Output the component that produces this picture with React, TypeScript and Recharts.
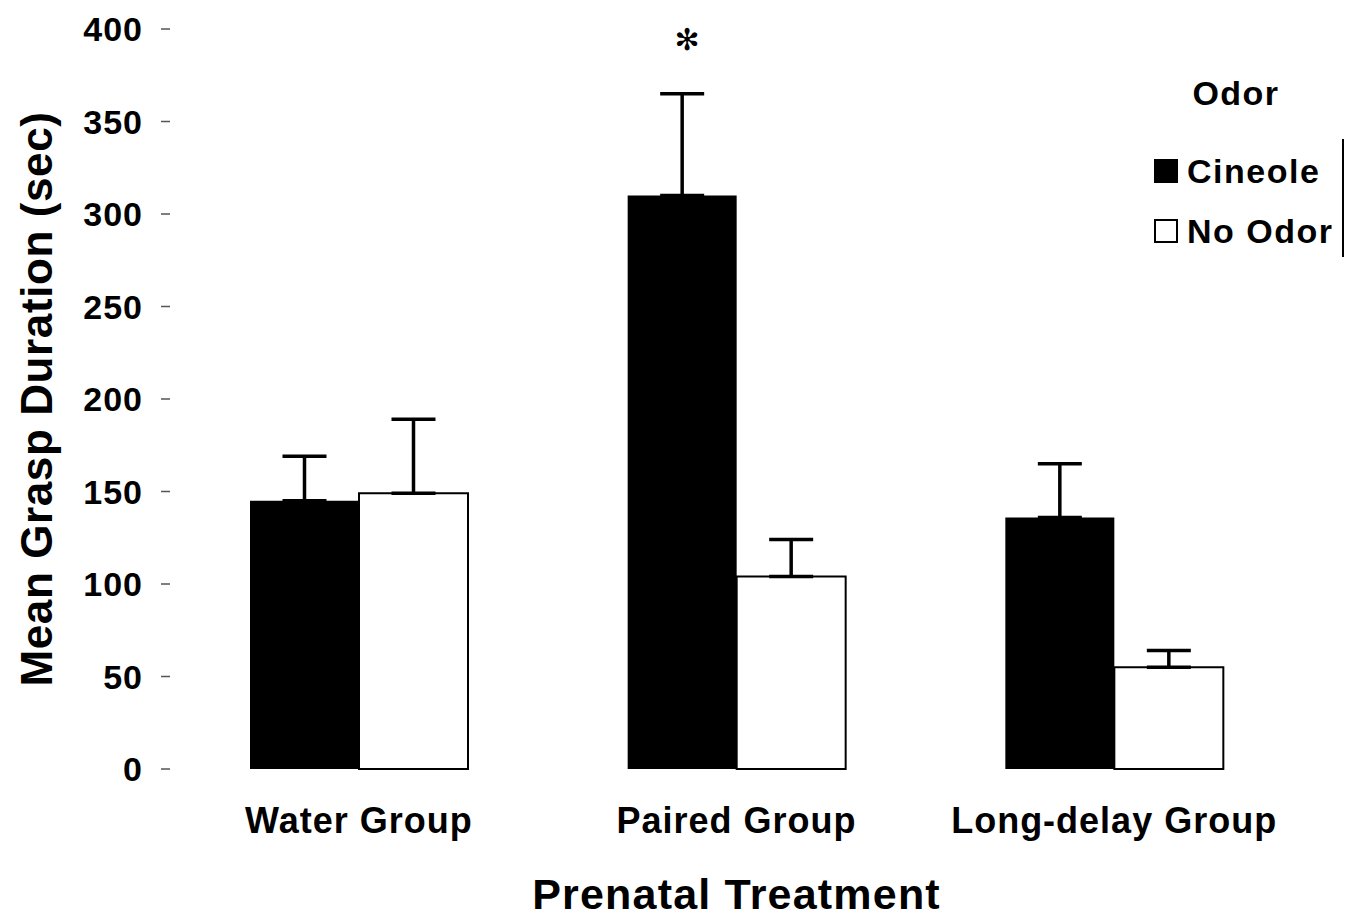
import { Bar, BarChart, ErrorBar, LabelList, Legend, XAxis, YAxis } from "recharts";

const groups = ["Water Group", "Paired Group", "Long-delay Group"];
const cineole = [145, 310, 136];
const cineoleErr = [24, 55, 29];
const noOdor = [149, 104, 55];
const noOdorErr = [40, 20, 9];
const significance = ["", "✻", ""];
const yTicks = [0, 50, 100, 150, 200, 250, 300, 350, 400];

const data = groups.map((name, i) => ({
  name,
  cineole: cineole[i],
  cineoleErr: [0, cineoleErr[i]],
  noOdor: noOdor[i],
  noOdorErr: [0, noOdorErr[i]],
  sig: significance[i],
}));

const font = "'Liberation Sans', Arial, Helvetica, sans-serif";

function SigLabel(props: any) {
  const { x, y, width, height, index, value } = props;
  if (!value) return null;
  const perUnit = height / cineole[index];
  const errTop = y - cineoleErr[index] * perUnit;
  return (
    <text
      x={x + width / 2 + 5}
      y={errTop - 54}
      textAnchor="middle"
      dominantBaseline="central"
      fontFamily="'DejaVu Sans', sans-serif"
      fontSize={30}
      fill="#000"
    >
      {value}
    </text>
  );
}

function YTitle(props: any) {
  const { viewBox } = props;
  const cy = viewBox.y + viewBox.height / 2;
  return (
    <text
      x={36}
      y={cy}
      transform={`rotate(-90, 36, ${cy})`}
      textAnchor="middle"
      dominantBaseline="central"
      fontFamily={font}
      fontWeight="bold"
      fontSize={44}
      letterSpacing={0.6}
      fill="#000"
    >
      Mean Grasp Duration (sec)
    </text>
  );
}

function OdorLegend(props: any) {
  const { payload } = props;
  return (
    <svg width={215} height={200} style={{ display: "block" }}>
      <text
        x={97}
        y={36}
        textAnchor="middle"
        fontFamily={font}
        fontWeight="bold"
        fontSize={34}
        letterSpacing={1.5}
        fill="#000"
      >
        Odor
      </text>
      {(payload || []).map((item: any, i: number) => (
        <g key={item.value}>
          <rect
            x={16}
            y={91 + i * 60}
            width={22}
            height={22}
            fill={i === 0 ? "#000" : "#fff"}
            stroke="#000"
            strokeWidth={2}
          />
          <text
            x={48}
            y={102 + i * 60}
            dominantBaseline="central"
            fontFamily={font}
            fontWeight="bold"
            fontSize={34}
            letterSpacing={1.5}
            fill="#000"
          >
            {item.value}
          </text>
        </g>
      ))}
      <line x1={204} y1={70} x2={204} y2={188} stroke="#000" strokeWidth={2} />
    </svg>
  );
}

export default function App() {
  return (
    <div style={{ position: "absolute", left: 0, top: 0, background: "#fff" }}>
      <BarChart
        width={1355}
        height={919}
        data={data}
        margin={{ top: 29, right: 52, bottom: 0, left: 0 }}
        barGap={0}
        barSize={109}
      >
        <XAxis
          dataKey="name"
          height={150}
          axisLine={false}
          tickLine={false}
          tickSize={0}
          tickMargin={38}
          tick={{ fill: "#000", fontFamily: font, fontWeight: "bold", fontSize: 36, letterSpacing: 1 }}
          label={{
            value: "Prenatal Treatment",
            position: "insideBottom",
            offset: 10,
            fill: "#000",
            fontFamily: font,
            fontWeight: "bold",
            fontSize: 43,
            letterSpacing: 1.2,
          }}
        />
        <YAxis
          width={170}
          domain={[0, 400]}
          ticks={yTicks}
          interval={0}
          axisLine={false}
          tickSize={9}
          tickMargin={18}
          tickLine={{ stroke: "#555", strokeWidth: 1.5 }}
          tick={{ fill: "#000", fontFamily: font, fontWeight: "bold", fontSize: 34, letterSpacing: 1 }}
          label={<YTitle />}
        />
        <Legend
          layout="horizontal"
          verticalAlign="middle"
          align="center"
          content={<OdorLegend />}
          wrapperStyle={{ top: 69, left: 1139, width: 215, height: 200 }}
        />
        <Bar dataKey="cineole" name="Cineole" fill="#000" isAnimationActive={false}>
          <ErrorBar dataKey="cineoleErr" width={22} stroke="#000" strokeWidth={3.5} direction="y" />
          <LabelList dataKey="sig" content={<SigLabel />} />
        </Bar>
        <Bar dataKey="noOdor" name="No Odor" fill="#fff" stroke="#000" strokeWidth={2} isAnimationActive={false}>
          <ErrorBar dataKey="noOdorErr" width={22} stroke="#000" strokeWidth={3.5} direction="y" />
        </Bar>
      </BarChart>
    </div>
  );
}
